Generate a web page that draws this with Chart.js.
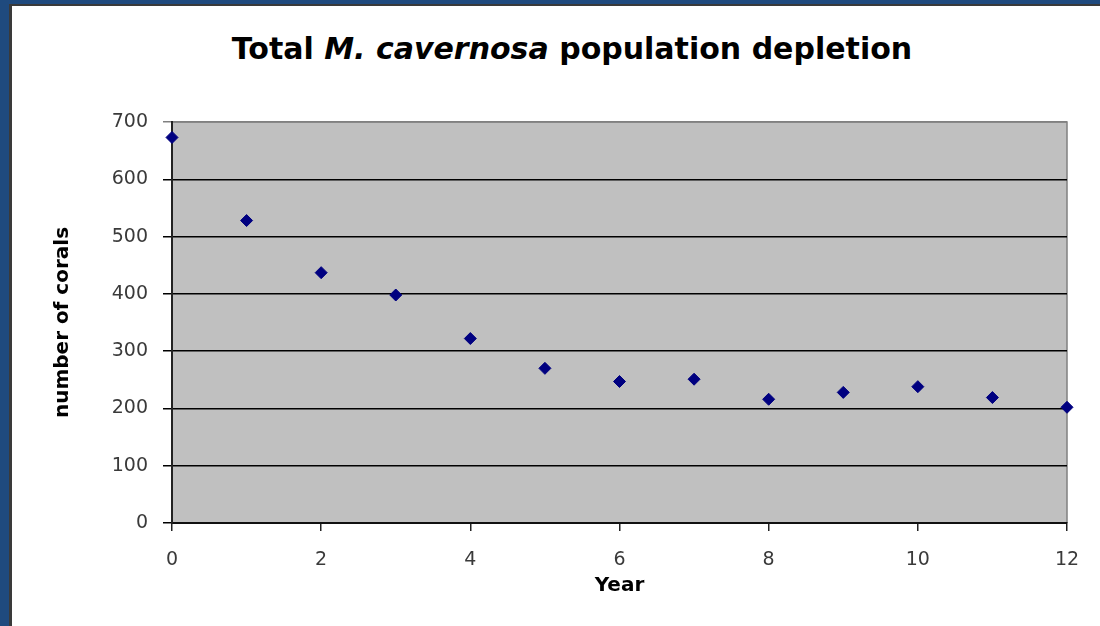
<!DOCTYPE html>
<html>
<head>
<meta charset="utf-8">
<script src="https://cdn.jsdelivr.net/npm/chart.js@4/dist/chart.umd.min.js"></script>
<style>
    html, body { margin: 0; padding: 0; }
    body { width: 1100px; height: 626px; background: #1f4a7e; position: relative; overflow: hidden; }
    #panel { position: absolute; left: 9px; top: 4px; width: 1100px; height: 640px; background: #fff;
             border-left: 3px solid #3a3a3a; border-top: 2px solid #3a3a3a; }
    #title { position: absolute; left: 72px; width: 1000px; top: 32px; text-align: center;
             font: bold 30px "DejaVu Sans", Verdana, sans-serif; line-height: 34px; color: #000; }
    #coralChart { position: absolute; left: 0; top: 0; }
</style>
</head>
<body>
<div id="panel"></div>
<div id="title">Total <i>M. cavernosa</i> population depletion</div>
<canvas id="coralChart" width="1100" height="626"></canvas>
<script>
// datos
const years = [0, 1, 2, 3, 4, 5, 6, 7, 8, 9, 10, 11, 12];
const corals = [673, 528, 437, 398, 322, 270, 247, 251, 216, 228, 238, 219, 202];
const yTicks = [0, 100, 200, 300, 400, 500, 600, 700];
const xTicks = [0, 2, 4, 6, 8, 10, 12];

// fondo gris del area de trazado
const plotBackground = {
    id: 'plotBackground',
    beforeDraw(chart) {
        const { ctx, chartArea: a } = chart;
        ctx.save();
        ctx.fillStyle = '#c0c0c0';
        ctx.fillRect(a.left, a.top, a.right - a.left, a.bottom - a.top);
        ctx.strokeStyle = '#808080';
        ctx.lineWidth = 1.5;
        ctx.beginPath();
        ctx.moveTo(a.left, a.top);
        ctx.lineTo(a.right, a.top);
        ctx.lineTo(a.right, a.bottom);
        ctx.stroke();
        ctx.restore();
    }
};

const tickFont = { family: '"DejaVu Sans", Verdana, sans-serif', size: 19 };
const titleFont = { family: '"DejaVu Sans", Verdana, sans-serif', size: 20, weight: 'bold' };

new Chart(document.getElementById('coralChart'), {
    type: 'scatter',
    data: {
        datasets: [{
            label: 'corals',
            data: years.map((y, i) => ({ x: y, y: corals[i] })),
            pointStyle: 'rectRot',
            pointRadius: 6,
            pointHoverRadius: 6,
            backgroundColor: '#000080',
            borderColor: '#000080',
            borderWidth: 1,
            clip: false
        }]
    },
    options: {
        responsive: false,
        animation: false,
        devicePixelRatio: 1,
        layout: { padding: { left: 0, top: 122, right: 33, bottom: 0 } },
        plugins: {
            legend: { display: false },
            tooltip: { enabled: false }
        },
        scales: {
            x: {
                type: 'linear',
                min: 0,
                max: 12,
                afterFit: s => { s.height = 103; },
                afterBuildTicks: s => { s.ticks = xTicks.map(v => ({ value: v })); },
                ticks: { font: tickFont, color: '#3a3a3a', padding: 18 },
                grid: { drawOnChartArea: false, drawTicks: true, tickLength: 8, color: '#222', lineWidth: 1.5 },
                border: { color: '#111', width: 2 },
                title: { display: true, text: 'Year', font: titleFont, color: '#000', padding: { bottom: 28 } }
            },
            y: {
                min: 0,
                max: 700,
                afterFit: s => { s.width = 172; },
                afterBuildTicks: s => { s.ticks = yTicks.map(v => ({ value: v })); },
                ticks: { font: tickFont, color: '#3a3a3a', padding: 15 },
                grid: {
                    tickLength: 9,
                    lineWidth: 1.5,
                    color: c => (c.tick && c.tick.value === 700) ? '#808080' : '#000'
                },
                border: { color: '#222', width: 2 },
                title: { display: true, text: 'number of corals', font: titleFont, color: '#000', padding: { top: 51 } }
            }
        }
    },
    plugins: [plotBackground]
});
</script>
</body>
</html>
